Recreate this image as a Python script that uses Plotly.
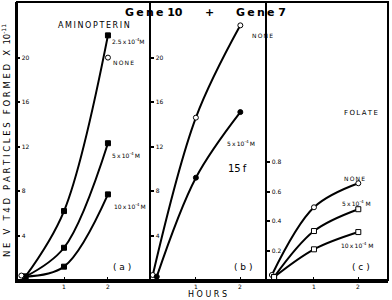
import plotly.graph_objects as go

# ---------------- data ----------------
# panel (a): aminopterin
a_x_sq = [0.12, 1, 2]
a_ami25 = [0.3, 6.2, 22.0]
a_ami5 = [0.3, 2.9, 12.3]
a_ami10 = [0.3, 1.2, 7.7]
a_x_none = [0.03, 2]
a_none = [0.4, 20.0]

# panel (b): 15f
b_x_none = [0.03, 1, 2]
b_none = [0.45, 14.6, 22.9]
b_x_fol = [0.12, 1, 2]
b_fol5 = [0.3, 9.2, 15.1]

# panel (c): folate
c_x_none = [0.05, 1, 2]
c_none = [0.034, 0.493, 0.656]
c_x_sq = [0.1, 1, 2]
c_fol5 = [0.02, 0.332, 0.48]
c_fol10 = [0.02, 0.208, 0.325]

ab_ticks = [4, 8, 12, 16, 20]
c_ticks = [0.2, 0.4, 0.6, 0.8]
x_ticks = [1, 2]

FONT = "DejaVu Sans"
W, H = 392, 300
L, R, T, B = 17, 4, 2, 20
NB = "\u00a0"
TH = "\u2009"


def spaced(s, gap=TH, word=NB + NB):
    words = s.split(" ")
    return word.join(gap.join(list(w)) for w in words)


def px(x, y):
    return (x - L) / (W - L - R), (H - B - y) / (H - T - B)


fig = go.Figure()


def line(x, y, xa, ya, symbol, fill="black", lines=True):
    fig.add_trace(go.Scatter(
        x=x, y=y, xaxis=xa, yaxis=ya,
        mode="lines+markers" if lines else "markers",
        line=dict(color="black", width=2, shape="spline", smoothing=1.0),
        marker=dict(symbol=symbol, size=5, color=fill,
                    line=dict(color="black", width=1)),
        showlegend=False, cliponaxis=False))


line(a_x_sq, a_ami25, "x", "y", "square")
line(a_x_sq, a_ami5, "x", "y", "square")
line(a_x_sq, a_ami10, "x", "y", "square")
line(a_x_none, a_none, "x", "y", "circle", "white", lines=False)

line(b_x_none, b_none, "x2", "y2", "circle", "white")
line(b_x_fol, b_fol5, "x2", "y2", "circle")

line(c_x_none, c_none, "x3", "y3", "circle", "white")
line(c_x_sq, c_fol5, "x3", "y3", "square", "white")
line(c_x_sq, c_fol10, "x3", "y3", "square", "white")

d1 = (151 - L) / (W - L - R)
d2 = (267 - L) / (W - L - R)

xcommon = dict(tickvals=x_ticks, showticklabels=False,
               ticks="inside", ticklen=3, tickwidth=1, tickcolor="black",
               showline=True, linecolor="black", linewidth=2.5,
               showgrid=False, zeroline=False)
ycommon = dict(ticks="inside", ticklen=3, tickwidth=1.5, tickcolor="black",
               ticklabelposition="inside", showline=True, linecolor="black",
               linewidth=2, showgrid=False, zeroline=False,
               tickfont=dict(size=6, family=FONT, color="black"))

fig.update_layout(
    width=W, height=H, margin=dict(l=L, r=R, t=T, b=B),
    paper_bgcolor="white", plot_bgcolor="white",
    xaxis=dict(domain=[0, d1], range=[-0.07, 2.98], anchor="y", **xcommon),
    xaxis2=dict(domain=[d1, d2], range=[-0.01, 2.6], anchor="y2", **xcommon),
    xaxis3=dict(domain=[d2, 1], range=[-0.06, 2.67], anchor="y3", **xcommon),
    yaxis=dict(domain=[0, 1], range=[0, 25.0], anchor="x", tickvals=ab_ticks, **ycommon),
    yaxis2=dict(domain=[0, 1], range=[0, 25.0], anchor="x2", tickvals=ab_ticks, **ycommon),
    yaxis3=dict(domain=[0, 1], range=[0, 1.885], anchor="x3", tickvals=c_ticks,
                tickformat=".1f", **ycommon),
)

# x tick labels (placed just below each panel's axis line)
for xa in ["x", "x2", "x3"]:
    for v in x_ticks:
        fig.add_annotation(x=v, xref=xa, y=0, yref="paper", text=str(v),
                           showarrow=False, xanchor="center", yanchor="top",
                           yshift=-1,
                           font=dict(size=6, family=FONT, color="black"))

fig.add_shape(type="rect", xref="paper", yref="paper", x0=0, y0=0, x1=1, y1=1,
              line=dict(color="black", width=2))


def note(text, x, y, size=7, anchor="left", bold=False, angle=0):
    xp, yp = px(x, y)
    fig.add_annotation(x=xp, y=yp, xref="paper", yref="paper", text=text,
                       showarrow=False, xanchor=anchor, yanchor="middle",
                       textangle=angle,
                       font=dict(size=size, family=FONT, color="black",
                                 weight="bold" if bold else "normal"))


sup4 = "<sup>-4</sup>"
note(spaced("Gene", gap=TH) + NB + "10", 154, 12, size=11, anchor="center", bold=True)
note("+", 209, 12, size=11, anchor="center", bold=True)
note(spaced("Gene", gap=TH) + NB + "7", 261, 12, size=11, anchor="center", bold=True)

note(spaced("AMINOPTERIN"), 94, 25, size=8, anchor="center")
note("2.5" + TH + "x" + TH + "10" + sup4 + "M", 110, 41, size=6)
note(spaced("NONE"), 111, 62, size=6)
note("5" + TH + "x" + TH + "10" + sup4 + TH + "M", 110, 155, size=6)
note("10" + TH + "x" + TH + "10" + sup4 + TH + "M", 112, 206, size=6)
note("(" + NB + "a" + NB + ")", 122, 267, size=9, anchor="center")

note(spaced("NONE"), 250, 35, size=6)
note("5" + TH + "x" + TH + "10" + sup4 + TH + "M", 225, 143, size=6)
note("15" + TH + "f", 237, 168, size=10, anchor="center")
note("(" + NB + "b" + NB + ")", 243, 267, size=9, anchor="center")

note(spaced("FOLATE"), 361, 113, size=7, anchor="center")
note(spaced("NONE"), 342, 178, size=6)
note("5" + TH + "x" + TH + "10" + sup4 + NB + "M", 340, 203, size=6)
note("10" + TH + "x" + TH + "10" + sup4 + NB + "M", 339, 245, size=6)
note("(" + NB + "c" + NB + ")", 361, 267, size=9, anchor="center")

note(spaced("HOURS", gap=NB), 207, 294, size=8, anchor="center")
note(spaced("NE V T4D PARTICLES FORMED X", gap=NB, word=NB * 3) + NB * 2 + "10<sup>-11</sup>",
     6, 141, size=8.5, anchor="center", angle=-90)

fig.write_html("out.html")
